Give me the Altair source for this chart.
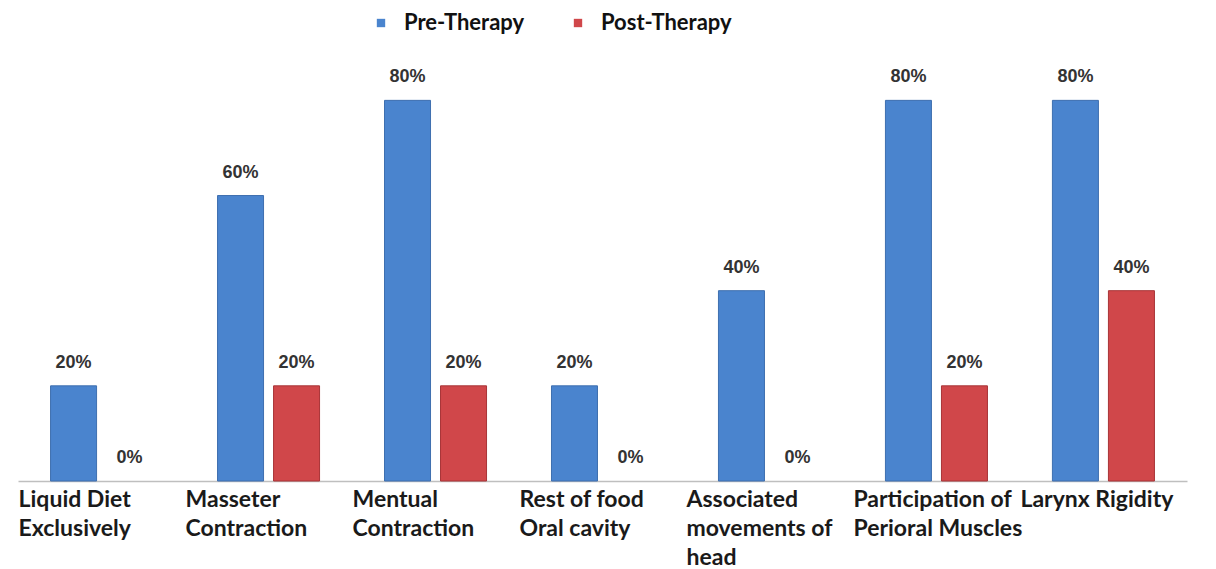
import altair as alt
import pandas as pd

categories = [
    "Liquid Diet\nExclusively",
    "Masseter\nContraction",
    "Mentual\nContraction",
    "Rest of food\nOral cavity",
    "Associated\nmovements of\nhead",
    "Participation of\nPerioral Muscles",
    "Larynx Rigidity",
]
series = ["Pre-Therapy", "Post-Therapy"]
pre_values = [20, 60, 80, 20, 40, 80, 80]
post_values = [0, 20, 20, 0, 0, 20, 40]
colors = ["#4A84CE", "#D0474A"]
edge_colors = ["#3E6FAF", "#A83437"]

rows = []
for c, a, b in zip(categories, pre_values, post_values):
    rows.append({"category": c, "series": series[0], "value": a, "label": f"{a}%"})
    rows.append({"category": c, "series": series[1], "value": b, "label": f"{b}%"})
df = pd.DataFrame(rows)

x = alt.X(
    "category:N",
    sort=categories,
    scale=alt.Scale(paddingInner=0.389, paddingOuter=0.195),
    axis=alt.Axis(
        title=None,
        ticks=False,
        labelAngle=0,
        labelAlign="left",
        labelBaseline="top",
        labelOffset=-83,
        labelPadding=7,
        labelFont="Lato",
        labelFontWeight="bold",
        labelFontSize=23,
        labelLineHeight=29,
        labelColor="#1a1a1a",
        labelExpr="split(datum.label, '\\n')",
        domainColor="#bfbfbf",
        domainWidth=1.5,
        grid=False,
    ),
)
xoff = alt.XOffset(
    "series:N", sort=series, scale=alt.Scale(paddingInner=0.1786, paddingOuter=0)
)
y = alt.Y("value:Q", scale=alt.Scale(domain=[0, 95]), axis=None)

bars = alt.Chart(df).mark_bar(strokeWidth=1).encode(
    x=x,
    xOffset=xoff,
    y=y,
    stroke=alt.Stroke(
        "series:N", sort=series,
        scale=alt.Scale(domain=series, range=edge_colors), legend=None,
    ),
    strokeOpacity=alt.condition(alt.datum.value > 0, alt.value(1), alt.value(0)),
    color=alt.Color(
        "series:N",
        sort=series,
        scale=alt.Scale(domain=series, range=colors),
        legend=alt.Legend(
            title=None,
            orient="none",
            direction="horizontal",
            legendX=352,
            legendY=-17,
            symbolType="square",
            symbolSize=70,
            symbolStrokeWidth=0,
            labelFont="Lato",
            labelFontWeight="bold",
            labelFontSize=22,
            labelColor="#111111",
            labelOffset=12,
            columnPadding=42,
            padding=0,
        ),
    ),
)

texts = alt.Chart(df).mark_text(
    baseline="bottom",
    dy=-14,
    font="Liberation Sans",
    fontWeight="bold",
    fontSize=18,
    color="#333333",
).encode(x=x, xOffset=xoff, y=y, text="label:N")

chart = (
    alt.layer(bars, texts)
    .properties(
        width=1169,
        height=452,
        autosize=alt.AutoSizeParams(type="none"),
        padding={"left": 10, "top": 21, "right": 10, "bottom": 95},
    )
    .configure_view(stroke=None)
    .configure_axis(grid=False)
)

chart.save("out.html", embed_options={"renderer": "svg", "actions": False})
